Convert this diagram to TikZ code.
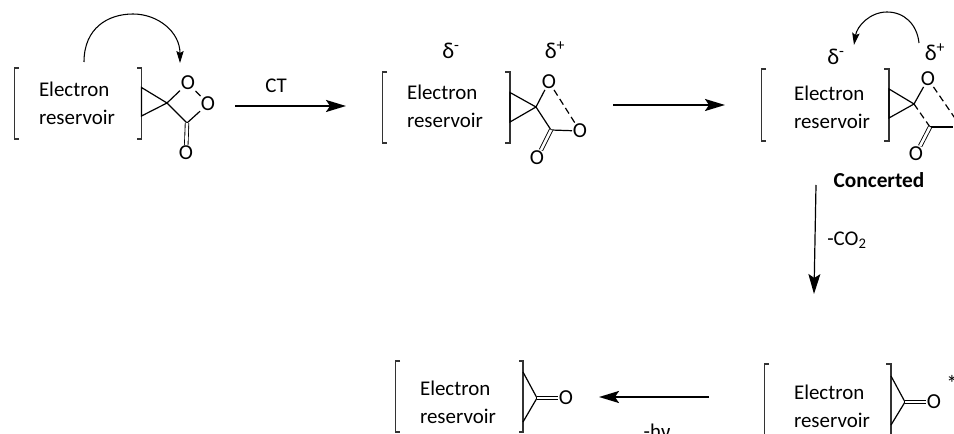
\documentclass[tikz,border=0pt]{standalone}
\usepackage{fontspec}
\setmainfont{Carlito}
\usepackage{xcolor}
\usepackage{tikz}
\usetikzlibrary{arrows.meta,positioning,calc}

\begin{document}
\begin{tikzpicture}[x=0.75pt, y=-0.75pt, >=Stealth,
    lbl/.style={inner sep=0pt, font=\fontsize{15.7}{21}\selectfont},
    res/.style={lbl, align=left},
    atom/.style={inner sep=0.5pt, font=\fontsize{16}{18}\selectfont},
    charge/.style={inner sep=0pt, font=\fontsize{17}{20}\selectfont},
    bond/.style={line width=0.9pt},
    dbond/.style={line width=0.65pt, double, double distance=2pt},
    wbond/.style={bond, dashed, dash pattern=on 5pt off 3pt},
    bracket/.style={line width=0.9pt, black!80},
    step arrow/.style={->, line width=1.5pt, -{Stealth[length=15pt, width=9pt, inset=3pt]}},
    thin arrow/.style={line width=0.9pt, -{Stealth[length=15pt, width=9pt, inset=3pt]}},
    curly/.style={line width=0.8pt, -{Stealth[length=9pt, width=5.5pt, inset=1.5pt]}}]
    \useasboundingbox (0,0) rectangle (954,434);
    \clip (0,0) rectangle (954,434);

    % Peroxide on the left
    \draw[bracket] (19,68) -| (14.5,139) -- (19,139);
    \draw[bracket] (137,68) -| (141.5,139) -- (137,139);
    \node[res] (res1) at (77,103) {Electron\\reservoir};
    \coordinate (a1) at (141.5,87.5);
    \coordinate (b1) at (141.5,116);
    \coordinate (s1) at (167,103);
    \coordinate (c1) at (187,123);
    \node[atom] (oa1) at (188,83) {O};
    \node[atom] (ob1) at (208,104) {O};
    \node[atom] (oc1) at (186,153) {O};
    \draw[bond] (a1) -- (s1) -- (b1) -- cycle;
    \draw[bond] (s1) -- (oa1);
    \draw[bond] (oa1) -- (ob1);
    \draw[bond] (ob1) -- (c1);
    \draw[bond] (s1) -- (c1);
    \draw[dbond] (c1) -- (oc1);
    \coordinate (from1) at (84,62);
    \coordinate (to1) at (180,63);
    \draw[curly] (from1) .. controls (84,28) and (108,14) .. (133,14) .. controls (158,14) and (180,32) .. (to1);

    % Charge separated state
    \draw[bracket] (387,72) -| (382.5,143) -- (387,143);
    \draw[bracket] (505,72) -| (510,143) -- (505,143);
    \node[res] (res2) at (445,106) {Electron\\reservoir};
    \node[charge] (dm2) at (451,51) {δ\textsuperscript{-}};
    \node[charge] (dp2) at (555,50) {δ\textsuperscript{+}};
    \coordinate (a2) at (510,92.5);
    \coordinate (b2) at (510,122);
    \coordinate (s2) at (536,107);
    \coordinate (c2) at (551,130);
    \node[atom] (oa2) at (549,82) {O};
    \node[atom] (ob2) at (580,131) {O};
    \node[atom] (oc2) at (537,158) {O};
    \draw[bond] (a2) -- (s2) -- (b2) -- cycle;
    \draw[bond] (s2) -- (oa2);
    \draw[wbond] (oa2) -- (ob2);
    \draw[bond] (c2) -- (ob2);
    \draw[bond] (s2) -- (c2);
    \draw[dbond] (c2) -- (oc2);

    % Concerted state, runs off the right edge
    \draw[bracket] (766,69) -| (761.5,141) -- (766,141);
    \draw[bracket] (884,69) -| (889,141) -- (884,141);
    \node[res] (res3) at (832,107) {Electron\\reservoir};
    \node[charge] (dm3) at (836,57) {δ\textsuperscript{-}};
    \node[charge] (dp3) at (935,52) {δ\textsuperscript{+}};
    \coordinate (a3) at (889,89);
    \coordinate (b3) at (889,118);
    \coordinate (s3) at (914,104);
    \coordinate (c3) at (930,127);
    \node[atom] (oa3) at (928,79) {O};
    \node[atom] (ob3) at (961,127) {O};
    \node[atom] (oc3) at (916,154) {O};
    \draw[bond] (a3) -- (s3) -- (b3) -- cycle;
    \draw[bond] (s3) -- (oa3);
    \draw[wbond] (oa3) -- (ob3);
    \draw[bond] (c3) -- (ob3);
    \draw[wbond] (s3) -- (c3);
    \draw[dbond] (c3) -- (oc3);
    \coordinate (from3) at (919,43);
    \coordinate (to3) at (854,45);
    \draw[curly] (from3) .. controls (917,24) and (904,12) .. (887,12) .. controls (870,12) and (857,26) .. (to3);
    \node[lbl, font=\fontsize{16}{18}\selectfont\bfseries] (conc) at (879,180) {Concerted};

    % Excited ketone
    \draw[bracket] (769,364) -| (764.5,445) -- (769,445);
    \draw[bracket] (886,364) -| (891,445) -- (886,445);
    \node[res] (res4) at (832,406) {Electron\\reservoir};
    \coordinate (a4) at (891,376);
    \coordinate (b4) at (891,425);
    \coordinate (c4) at (905,402);
    \node[atom] (o4) at (934,402) {O};
    \node[charge] (star) at (952,383) {*};
    \draw[bond] (a4) -- (c4) -- (b4);
    \draw[dbond] (c4) -- (o4);

    % Ground state ketone
    \draw[bracket] (400,361) -| (395.5,432) -- (400,432);
    \draw[bracket] (519,361) -| (523,432) -- (519,432);
    \node[res] (res5) at (458,402) {Electron\\reservoir};
    \coordinate (a5) at (523,372);
    \coordinate (b5) at (523,422);
    \coordinate (c5) at (537,398);
    \node[atom] (o5) at (566,398) {O};
    \draw[bond] (a5) -- (c5) -- (b5);
    \draw[dbond] (c5) -- (o5);

    % Arrows between the states
    \coordinate (p1) at (235,106);
    \coordinate (p2) at (346,106);
    \draw[step arrow] (p1) -- (p2);
    \node[lbl] (ct) at (276,86) {CT};
    \coordinate (p3) at (613,105);
    \coordinate (p4) at (725,105);
    \draw[step arrow] (p3) -- (p4);
    \coordinate (p5) at (816,185);
    \coordinate (p6) at (814,294);
    \draw[thin arrow] (p5) -- (p6);
    \node[lbl] (co2) at (847,240) {-CO\textsubscript{2}};
    \coordinate (p7) at (709,397);
    \coordinate (p8) at (599,397);
    \draw[step arrow] (p7) -- (p8);
    \node[lbl] (hv) at (657,431) {-hν};
\end{tikzpicture}
\end{document}
